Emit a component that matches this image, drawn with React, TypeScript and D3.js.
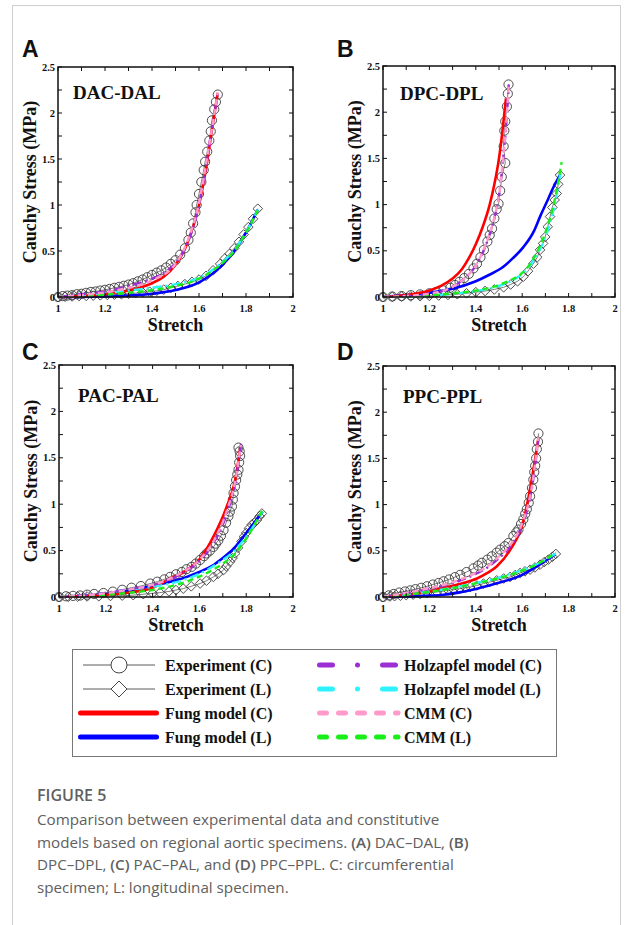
import React from 'react';
import * as d3 from 'd3';

type Pt = [number, number];

// ---------- axis ticks ----------
const xTickValues = [1, 1.1, 1.2, 1.3, 1.4, 1.5, 1.6, 1.7, 1.8, 1.9, 2];
const xTickLabels = [1, 1.2, 1.4, 1.6, 1.8, 2];
const yTickValues = [0, 0.25, 0.5, 0.75, 1, 1.25, 1.5, 1.75, 2, 2.25, 2.5];
const yTickLabels = [0, 0.5, 1, 1.5, 2, 2.5];

const panelLetters = ['A', 'B', 'C', 'D'];
const panelTitles = ['DAC-DAL', 'DPC-DPL', 'PAC-PAL', 'PPC-PPL'];

// ---------- Panel A: DAC-DAL ----------
const dacExpC: Pt[] = [[1.0,0],[1.02,0.01],[1.04,0.015],[1.06,0.02],[1.08,0.03],[1.10,0.035],[1.12,0.045],[1.14,0.055],[1.16,0.06],[1.18,0.07],[1.20,0.078],[1.22,0.088],[1.24,0.1],[1.26,0.11],[1.28,0.122],[1.30,0.135],[1.32,0.15],[1.34,0.17],[1.36,0.19],[1.38,0.215],[1.40,0.24],[1.42,0.265],[1.44,0.29],[1.46,0.32],[1.48,0.36],[1.50,0.40],[1.52,0.46],[1.54,0.53],[1.555,0.62],[1.565,0.70],[1.575,0.80],[1.585,0.92],[1.59,1.0],[1.60,1.12],[1.61,1.25],[1.62,1.38],[1.626,1.47],[1.635,1.58],[1.644,1.70],[1.65,1.80],[1.655,1.92],[1.665,2.04],[1.672,2.12],[1.68,2.2]];
const dacExpL: Pt[] = [[1.0,0],[1.03,0.003],[1.06,0.006],[1.09,0.01],[1.12,0.012],[1.15,0.015],[1.18,0.018],[1.21,0.022],[1.24,0.026],[1.27,0.03],[1.30,0.036],[1.33,0.042],[1.36,0.05],[1.39,0.058],[1.42,0.068],[1.45,0.08],[1.48,0.1],[1.51,0.12],[1.54,0.14],[1.57,0.165],[1.60,0.19],[1.63,0.23],[1.66,0.29],[1.69,0.36],[1.71,0.42],[1.73,0.47],[1.75,0.53],[1.77,0.6],[1.79,0.68],[1.81,0.76],[1.83,0.85],[1.85,0.96]];
const dacFungC: Pt[] = [[1,0],[1.1,0.01],[1.2,0.03],[1.3,0.07],[1.4,0.15],[1.45,0.22],[1.5,0.35],[1.55,0.58],[1.6,1.0],[1.63,1.4],[1.66,1.9],[1.68,2.22]];
const dacFungL: Pt[] = [[1,0],[1.2,0.005],[1.3,0.015],[1.4,0.035],[1.5,0.075],[1.6,0.16],[1.65,0.24],[1.7,0.35],[1.75,0.5],[1.8,0.7],[1.85,0.95]];
const dacHolzC: Pt[] = [[1,0],[1.1,0.03],[1.2,0.06],[1.3,0.12],[1.4,0.2],[1.45,0.26],[1.5,0.37],[1.55,0.58],[1.6,1.0],[1.63,1.42],[1.66,1.92],[1.68,2.2]];
const dacHolzL: Pt[] = [[1,0],[1.1,0.02],[1.2,0.04],[1.3,0.07],[1.4,0.1],[1.5,0.14],[1.6,0.21],[1.7,0.38],[1.75,0.51],[1.8,0.7],[1.85,0.95]];
const dacCmmC: Pt[] = [[1,0],[1.1,0.02],[1.2,0.05],[1.3,0.1],[1.4,0.18],[1.5,0.36],[1.55,0.6],[1.6,1.02],[1.64,1.6],[1.68,2.22]];
const dacCmmL: Pt[] = [[1,0],[1.1,0.01],[1.2,0.025],[1.3,0.045],[1.4,0.075],[1.5,0.12],[1.6,0.2],[1.7,0.37],[1.75,0.5],[1.8,0.7],[1.85,0.94]];

// ---------- Panel B: DPC-DPL ----------
const dpcExpC: Pt[] = [[1.0,0],[1.04,0.005],[1.08,0.01],[1.12,0.02],[1.16,0.028],[1.20,0.04],[1.23,0.055],[1.26,0.072],[1.29,0.1],[1.31,0.13],[1.33,0.165],[1.35,0.205],[1.37,0.25],[1.39,0.31],[1.405,0.36],[1.42,0.43],[1.435,0.51],[1.45,0.6],[1.46,0.67],[1.47,0.74],[1.48,0.85],[1.49,0.95],[1.498,1.01],[1.505,1.15],[1.512,1.3],[1.527,1.45],[1.52,1.63],[1.523,1.8],[1.527,1.9],[1.534,2.06],[1.538,2.2],[1.541,2.3]];
const dpcExpL: Pt[] = [[1.0,0],[1.04,0.003],[1.08,0.005],[1.12,0.006],[1.16,0.008],[1.20,0.012],[1.24,0.016],[1.28,0.022],[1.32,0.03],[1.36,0.04],[1.40,0.052],[1.44,0.065],[1.48,0.082],[1.52,0.105],[1.55,0.135],[1.58,0.17],[1.605,0.22],[1.625,0.28],[1.648,0.36],[1.665,0.43],[1.677,0.51],[1.69,0.58],[1.699,0.65],[1.71,0.76],[1.72,0.87],[1.73,0.97],[1.74,1.05],[1.749,1.12],[1.755,1.22],[1.763,1.32]];
const dpcFungC: Pt[] = [[1,0],[1.1,0.02],[1.2,0.07],[1.25,0.12],[1.3,0.2],[1.34,0.3],[1.37,0.42],[1.4,0.57],[1.43,0.76],[1.46,1.0],[1.48,1.22],[1.5,1.5],[1.515,1.8],[1.53,2.15]];
const dpcFungL: Pt[] = [[1,0],[1.1,0.02],[1.2,0.045],[1.26,0.07],[1.3,0.09],[1.4,0.17],[1.45,0.23],[1.52,0.33],[1.56,0.42],[1.605,0.54],[1.65,0.71],[1.677,0.87],[1.71,1.05],[1.735,1.19],[1.765,1.33]];
const dpcHolzC: Pt[] = [[1,0],[1.1,0.01],[1.2,0.035],[1.3,0.11],[1.35,0.2],[1.4,0.34],[1.43,0.48],[1.46,0.68],[1.48,0.85],[1.5,1.1],[1.52,1.55],[1.535,2.0],[1.542,2.3]];
const dpcHolzL: Pt[] = [[1,0],[1.1,0.005],[1.2,0.015],[1.3,0.035],[1.4,0.065],[1.5,0.12],[1.55,0.17],[1.6,0.25],[1.65,0.4],[1.7,0.65],[1.74,1.0],[1.765,1.35]];
const dpcCmmC: Pt[] = [[1,0],[1.1,0.012],[1.2,0.037],[1.3,0.11],[1.35,0.2],[1.4,0.34],[1.43,0.49],[1.46,0.69],[1.48,0.86],[1.5,1.1],[1.52,1.56],[1.535,2.02],[1.542,2.31]];
const dpcCmmL: Pt[] = [[1,0],[1.1,0.005],[1.2,0.018],[1.3,0.04],[1.405,0.07],[1.5,0.13],[1.548,0.18],[1.6,0.26],[1.65,0.42],[1.7,0.7],[1.74,1.05],[1.77,1.46]];

// ---------- Panel C: PAC-PAL ----------
const pacExpC: Pt[] = [[1.0,0],[1.03,0.008],[1.06,0.012],[1.09,0.016],[1.12,0.025],[1.15,0.033],[1.19,0.043],[1.23,0.058],[1.27,0.078],[1.31,0.1],[1.35,0.118],[1.39,0.145],[1.42,0.165],[1.45,0.19],[1.475,0.217],[1.50,0.245],[1.525,0.27],[1.545,0.3],[1.567,0.325],[1.585,0.36],[1.603,0.4],[1.62,0.44],[1.631,0.47],[1.645,0.5],[1.66,0.54],[1.67,0.575],[1.681,0.61],[1.692,0.66],[1.703,0.72],[1.714,0.8],[1.724,0.87],[1.73,0.92],[1.739,0.975],[1.743,1.05],[1.746,1.12],[1.752,1.19],[1.757,1.26],[1.762,1.32],[1.767,1.37],[1.77,1.45],[1.774,1.52],[1.772,1.57],[1.767,1.61]];
const pacExpL: Pt[] = [[1.0,0],[1.04,0.002],[1.08,0.004],[1.12,0.006],[1.17,0.008],[1.22,0.011],[1.27,0.015],[1.317,0.02],[1.36,0.03],[1.40,0.04],[1.431,0.047],[1.47,0.06],[1.50,0.075],[1.531,0.09],[1.565,0.115],[1.603,0.145],[1.63,0.175],[1.66,0.217],[1.68,0.25],[1.703,0.29],[1.715,0.33],[1.731,0.38],[1.742,0.42],[1.753,0.47],[1.765,0.53],[1.78,0.6],[1.79,0.65],[1.80,0.69],[1.812,0.74],[1.824,0.78],[1.835,0.8],[1.846,0.83],[1.857,0.87],[1.867,0.9]];
const pacFungC: Pt[] = [[1,0],[1.1,0.01],[1.2,0.025],[1.317,0.054],[1.4,0.1],[1.46,0.18],[1.546,0.29],[1.603,0.415],[1.66,0.65],[1.717,0.975],[1.753,1.26],[1.776,1.63]];
const pacFungL: Pt[] = [[1,0],[1.1,0.01],[1.2,0.03],[1.317,0.075],[1.4,0.12],[1.5,0.18],[1.546,0.217],[1.6,0.27],[1.66,0.345],[1.7,0.42],[1.746,0.52],[1.8,0.69],[1.87,0.92]];
const pacHolzC: Pt[] = [[1,0],[1.1,0.02],[1.2,0.045],[1.3,0.085],[1.4,0.13],[1.5,0.22],[1.6,0.39],[1.66,0.58],[1.72,0.92],[1.755,1.25],[1.778,1.65]];
const pacHolzL: Pt[] = [[1,0],[1.1,0.02],[1.2,0.045],[1.3,0.08],[1.4,0.11],[1.5,0.16],[1.6,0.25],[1.7,0.4],[1.75,0.5],[1.8,0.65],[1.87,0.92]];
const pacCmmC: Pt[] = [[1,0],[1.1,0.015],[1.2,0.04],[1.3,0.08],[1.4,0.13],[1.5,0.23],[1.6,0.4],[1.66,0.6],[1.72,0.95],[1.755,1.27],[1.777,1.64]];
const pacCmmL: Pt[] = [[1,0],[1.1,0.01],[1.2,0.025],[1.3,0.045],[1.4,0.075],[1.5,0.13],[1.6,0.22],[1.7,0.36],[1.746,0.45],[1.8,0.63],[1.868,0.93]];

// ---------- Panel D: PPC-PPL ----------
const ppcExpC: Pt[] = [[1.0,0],[1.025,0.018],[1.046,0.033],[1.07,0.048],[1.095,0.06],[1.118,0.072],[1.14,0.085],[1.165,0.1],[1.19,0.116],[1.215,0.135],[1.24,0.152],[1.261,0.17],[1.285,0.19],[1.31,0.215],[1.333,0.24],[1.36,0.27],[1.39,0.31],[1.41,0.34],[1.426,0.37],[1.45,0.405],[1.469,0.44],[1.49,0.48],[1.505,0.513],[1.525,0.55],[1.541,0.585],[1.562,0.66],[1.575,0.7],[1.584,0.73],[1.595,0.79],[1.605,0.84],[1.613,0.9],[1.62,0.95],[1.628,1.02],[1.634,1.09],[1.642,1.18],[1.648,1.27],[1.652,1.35],[1.656,1.42],[1.66,1.5],[1.663,1.6],[1.668,1.68],[1.67,1.77]];
const ppcExpL: Pt[] = [[1.0,0],[1.03,0.005],[1.05,0.009],[1.075,0.014],[1.1,0.02],[1.13,0.026],[1.16,0.033],[1.19,0.042],[1.232,0.054],[1.26,0.064],[1.28,0.072],[1.304,0.08],[1.33,0.09],[1.355,0.1],[1.376,0.108],[1.405,0.125],[1.433,0.145],[1.46,0.162],[1.49,0.18],[1.52,0.2],[1.548,0.217],[1.57,0.238],[1.591,0.26],[1.612,0.278],[1.634,0.296],[1.655,0.32],[1.677,0.35],[1.695,0.378],[1.713,0.405],[1.73,0.435],[1.745,0.466]];
const ppcFungC: Pt[] = [[1,0],[1.1,0.025],[1.2,0.06],[1.261,0.1],[1.33,0.14],[1.405,0.2],[1.45,0.26],[1.49,0.33],[1.548,0.51],[1.605,0.82],[1.641,1.27],[1.67,1.72]];
const ppcFungL: Pt[] = [[1,0],[1.1,0.005],[1.2,0.015],[1.261,0.025],[1.33,0.05],[1.405,0.09],[1.48,0.14],[1.548,0.19],[1.6,0.24],[1.663,0.33],[1.742,0.46]];
const ppcHolzC: Pt[] = [[1,0],[1.1,0.04],[1.2,0.09],[1.3,0.15],[1.4,0.25],[1.45,0.32],[1.5,0.42],[1.55,0.55],[1.6,0.78],[1.64,1.15],[1.67,1.72]];
const ppcHolzL: Pt[] = [[1,0],[1.1,0.03],[1.2,0.06],[1.3,0.1],[1.405,0.155],[1.5,0.21],[1.548,0.25],[1.6,0.29],[1.69,0.39],[1.745,0.47]];
const ppcCmmC: Pt[] = [[1,0],[1.1,0.045],[1.2,0.095],[1.3,0.16],[1.4,0.26],[1.45,0.33],[1.5,0.44],[1.55,0.57],[1.6,0.8],[1.64,1.17],[1.67,1.73]];
const ppcCmmL: Pt[] = [[1,0],[1.1,0.025],[1.2,0.055],[1.3,0.095],[1.405,0.15],[1.5,0.205],[1.548,0.24],[1.6,0.285],[1.69,0.39],[1.745,0.48]];

const legendLabelsLeft = ['Experiment (C)', 'Experiment (L)', 'Fung model (C)', 'Fung model (L)'];
const legendLabelsRight = ['Holzapfel model (C)', 'Holzapfel model (L)', 'CMM (C)', 'CMM (L)'];

// ---------- styling ----------
const COL = {
  fungC: '#ff0000', fungL: '#0000ff',
  holzC: '#9b2fd3', holzL: '#2ef2ff',
  cmmC: '#ff9acb', cmmL: '#19ee19',
  exp: '#5a5a5a',
};
const SERIF = '"Liberation Serif", "Times New Roman", serif';
const SANS = '"Liberation Sans", Arial, sans-serif';
const CAP = '"Open Sans", "Noto Sans", sans-serif';

interface PanelData {
  expC: Pt[]; expL: Pt[]; fungC: Pt[]; fungL: Pt[];
  holzC: Pt[]; holzL: Pt[]; cmmC: Pt[]; cmmL: Pt[];
}
const panelData: PanelData[] = [
  { expC: dacExpC, expL: dacExpL, fungC: dacFungC, fungL: dacFungL, holzC: dacHolzC, holzL: dacHolzL, cmmC: dacCmmC, cmmL: dacCmmL },
  { expC: dpcExpC, expL: dpcExpL, fungC: dpcFungC, fungL: dpcFungL, holzC: dpcHolzC, holzL: dpcHolzL, cmmC: dpcCmmC, cmmL: dpcCmmL },
  { expC: pacExpC, expL: pacExpL, fungC: pacFungC, fungL: pacFungL, holzC: pacHolzC, holzL: pacHolzL, cmmC: pacCmmC, cmmL: pacCmmL },
  { expC: ppcExpC, expL: ppcExpL, fungC: ppcFungC, fungL: ppcFungL, holzC: ppcHolzC, holzL: ppcHolzL, cmmC: ppcCmmC, cmmL: ppcCmmL },
];

const layouts = [
  { x: 58, y: 67, w: 235, h: 230, lx: 22, ly: 57, tx: 73, ty: 99 },
  { x: 383, y: 66, w: 232, h: 231, lx: 337, ly: 57, tx: 400, ty: 100 },
  { x: 59, y: 365, w: 234, h: 232, lx: 22, ly: 360, tx: 78, ty: 402 },
  { x: 383, y: 366, w: 232, h: 231, lx: 337, ly: 360, tx: 403, ty: 403 },
];

function diamondPath(cx: number, cy: number, r: number) {
  return `M${cx},${cy - r}L${cx + r},${cy}L${cx},${cy + r}L${cx - r},${cy}Z`;
}

function Panel({ idx }: { idx: number }) {
  const L = layouts[idx];
  const d = panelData[idx];
  const xs = d3.scaleLinear().domain([1, 2]).range([L.x, L.x + L.w]);
  const ys = d3.scaleLinear().domain([0, 2.5]).range([L.y + L.h, L.y]);
  const smooth = d3.line<Pt>().x(p => xs(p[0])).y(p => ys(p[1])).curve(d3.curveMonotoneX);
  const straight = d3.line<Pt>().x(p => xs(p[0])).y(p => ys(p[1]));
  const tk = 4;
  return (
    <g>
      <text x={L.lx} y={L.ly} fontFamily={SANS} fontWeight="bold" fontSize={23} fill="#111">{panelLetters[idx]}</text>
      {/* experiments */}
      <path d={straight(d.expC) || ''} fill="none" stroke={COL.exp} strokeWidth={0.8} />
      <path d={straight(d.expL) || ''} fill="none" stroke={COL.exp} strokeWidth={0.8} />
      {d.expC.map((p, i) => (
        <circle key={'c' + i} cx={xs(p[0])} cy={ys(p[1])} r={4.6} fill="none" stroke="#3a3a3a" strokeWidth={0.9} />
      ))}
      {d.expL.map((p, i) => (
        <path key={'l' + i} d={diamondPath(xs(p[0]), ys(p[1]), 4.8)} fill="none" stroke="#3a3a3a" strokeWidth={0.9} />
      ))}
      {/* models */}
      <path d={smooth(d.fungL) || ''} fill="none" stroke={COL.fungL} strokeWidth={2.6} />
      <path d={smooth(d.fungC) || ''} fill="none" stroke={COL.fungC} strokeWidth={2.6} />
      <path d={smooth(d.holzL) || ''} fill="none" stroke={COL.holzL} strokeWidth={2.4} strokeDasharray="9 4 2 4" />
      <path d={smooth(d.holzC) || ''} fill="none" stroke={COL.holzC} strokeWidth={2.4} strokeDasharray="9 4 2 4" />
      <path d={smooth(d.cmmL) || ''} fill="none" stroke={COL.cmmL} strokeWidth={2.4} strokeDasharray="6 4" />
      <path d={smooth(d.cmmC) || ''} fill="none" stroke={COL.cmmC} strokeWidth={2.4} strokeDasharray="6 4" />
      {/* frame */}
      <rect x={L.x} y={L.y} width={L.w} height={L.h} fill="none" stroke="#111" strokeWidth={1.5} />
      {xTickValues.map(v => (
        <g key={'xt' + v}>
          <line x1={xs(v)} x2={xs(v)} y1={L.y + L.h} y2={L.y + L.h - tk} stroke="#111" strokeWidth={1} />
          <line x1={xs(v)} x2={xs(v)} y1={L.y} y2={L.y + tk} stroke="#111" strokeWidth={1} />
        </g>
      ))}
      {yTickValues.map(v => (
        <g key={'yt' + v}>
          <line x1={L.x} x2={L.x + tk} y1={ys(v)} y2={ys(v)} stroke="#111" strokeWidth={1} />
          <line x1={L.x + L.w} x2={L.x + L.w - tk} y1={ys(v)} y2={ys(v)} stroke="#111" strokeWidth={1} />
        </g>
      ))}
      {xTickLabels.map(v => (
        <text key={'xl' + v} x={xs(v)} y={L.y + L.h + 15} textAnchor="middle" fontFamily={SERIF} fontWeight="bold" fontSize={10.5} fill="#111">{String(v)}</text>
      ))}
      {yTickLabels.map(v => (
        <text key={'yl' + v} x={L.x - 3} y={ys(v) + 3.5} textAnchor="end" fontFamily={SERIF} fontWeight="bold" fontSize={10.5} fill="#111">{String(v)}</text>
      ))}
      <text x={xs(1.5)} y={L.y + L.h + 34} textAnchor="middle" fontFamily={SERIF} fontWeight="bold" fontSize={18} fill="#111">Stretch</text>
      <text transform={`translate(${L.x - 22},${L.y + L.h / 2}) rotate(-90)`} textAnchor="middle" fontFamily={SERIF} fontWeight="bold" fontSize={18} fill="#111">Cauchy Stress (MPa)</text>
      <text x={L.tx} y={L.ty} fontFamily={SERIF} fontWeight="bold" fontSize={19} fill="#111">{panelTitles[idx]}</text>
    </g>
  );
}

function Legend() {
  const rows = [665, 689, 713, 737];
  return (
    <g>
      <rect x={72.5} y={649.5} width={484} height={107} fill="#fff" stroke="#777" strokeWidth={1} />
      {/* left column */}
      <line x1={83} x2={155} y1={rows[0]} y2={rows[0]} stroke={COL.exp} strokeWidth={1} />
      <circle cx={119} cy={rows[0]} r={8} fill="#fff" stroke="#444" strokeWidth={1} />
      <line x1={83} x2={155} y1={rows[1]} y2={rows[1]} stroke={COL.exp} strokeWidth={1} />
      <path d={diamondPath(119, rows[1], 8)} fill="#fff" stroke="#444" strokeWidth={1} />
      <line x1={80.5} x2={156.5} y1={rows[2]} y2={rows[2]} stroke={COL.fungC} strokeWidth={5} strokeLinecap="round" />
      <line x1={80.5} x2={156.5} y1={rows[3]} y2={rows[3]} stroke={COL.fungL} strokeWidth={5} strokeLinecap="round" />
      {legendLabelsLeft.map((t, i) => (
        <text key={t} x={165} y={rows[i] + 5.5} fontFamily={SERIF} fontWeight="bold" fontSize={16} fill="#111">{t}</text>
      ))}
      {/* right column */}
      <line x1={319.5} x2={395.5} y1={rows[0]} y2={rows[0]} stroke={COL.holzC} strokeWidth={5} strokeLinecap="round" strokeDasharray="13 25 0.01 25 13" />
      <line x1={319.5} x2={395.5} y1={rows[1]} y2={rows[1]} stroke={COL.holzL} strokeWidth={5} strokeLinecap="round" strokeDasharray="13 25 0.01 25 13" />
      <line x1={319.5} x2={398} y1={rows[2]} y2={rows[2]} stroke={COL.cmmC} strokeWidth={5} strokeLinecap="round" strokeDasharray="7 12" />
      <line x1={319.5} x2={398} y1={rows[3]} y2={rows[3]} stroke={COL.cmmL} strokeWidth={5} strokeLinecap="round" strokeDasharray="7 12" />
      {legendLabelsRight.map((t, i) => (
        <text key={t} x={404} y={rows[i] + 5.5} fontFamily={SERIF} fontWeight="bold" fontSize={16} fill="#111">{t}</text>
      ))}
    </g>
  );
}

function Caption() {
  const b = { fontWeight: 600 as const };
  return (
    <g fontFamily={CAP} fill="#606060">
      <text x={37} y={801} fontSize={16} fontWeight={600}>FIGURE 5</text>
      <text x={37} y={825} fontSize={15.2}>Comparison between experimental data and constitutive</text>
      <text x={37} y={848} fontSize={15.2}>
        models based on regional aortic specimens. <tspan {...b}>(A)</tspan> DAC–DAL, <tspan {...b}>(B)</tspan>
      </text>
      <text x={37} y={870} fontSize={15.2}>
        DPC–DPL, <tspan {...b}>(C)</tspan> PAC–PAL, and <tspan {...b}>(D)</tspan> PPC–PPL. C: circumferential
      </text>
      <text x={37} y={893} fontSize={15.2}>specimen; L: longitudinal specimen.</text>
    </g>
  );
}

export default function App() {
  return (
    <svg width={625} height={925} viewBox="0 0 625 925" style={{ position: 'absolute', left: 0, top: 0, background: '#fff' }}>
      <rect x={0} y={0} width={625} height={925} fill="#fff" />
      <rect x={12.5} y={5.5} width={608} height={1000} fill="none" stroke="#cfcfcf" strokeWidth={1} />
      {[0, 1, 2, 3].map(i => <Panel key={i} idx={i} />)}
      <Legend />
      <Caption />
    </svg>
  );
}
